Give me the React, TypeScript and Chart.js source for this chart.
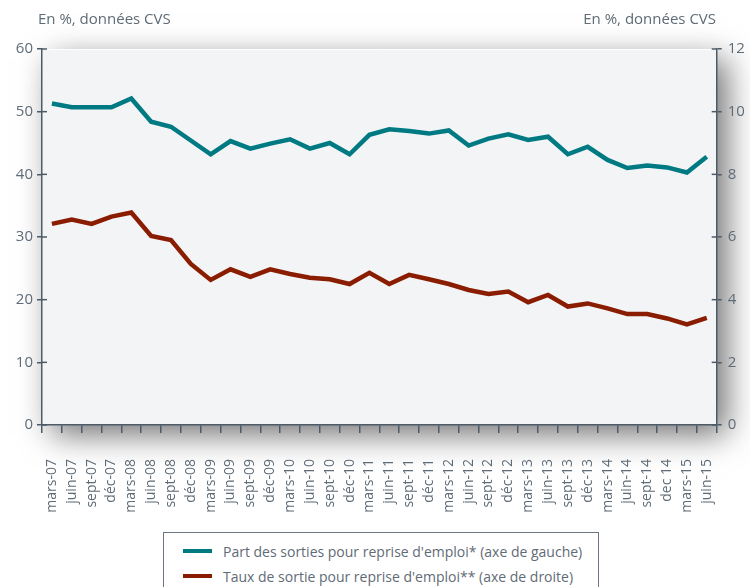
import React, { useEffect, useRef } from "react";
import { Chart, registerables } from "chart.js";

Chart.register(...registerables);

const categories = [
  "mars-07", "juin-07", "sept-07", "déc-07",
  "mars-08", "juin-08", "sept-08", "déc-08",
  "mars-09", "juin-09", "sept-09", "déc-09",
  "mars-10", "juin-10", "sept-10", "déc-10",
  "mars-11", "juin-11", "sept-11", "déc-11",
  "mars-12", "juin-12", "sept-12", "déc-12",
  "mars-13", "juin-13", "sept-13", "déc-13",
  "mars-14", "juin-14", "sept-14", "dec 14",
  "mars-15", "juin-15",
];

const partSorties = [
  51.3, 50.7, 50.7, 50.7, 52.1, 48.4, 47.6, 45.4,
  43.2, 45.3, 44.1, 44.9, 45.6, 44.1, 45.0, 43.2,
  46.3, 47.2, 46.9, 46.5, 47.0, 44.6, 45.7, 46.4,
  45.5, 46.0, 43.2, 44.4, 42.3, 41.0, 41.4, 41.1,
  40.3, 42.8,
];

const tauxSortie = [
  6.42, 6.56, 6.42, 6.65, 6.78, 6.03, 5.90, 5.14,
  4.63, 4.97, 4.73, 4.97, 4.82, 4.70, 4.65, 4.50,
  4.86, 4.50, 4.79, 4.65, 4.50, 4.31, 4.18, 4.26,
  3.92, 4.15, 3.78, 3.88, 3.72, 3.54, 3.54, 3.40,
  3.21, 3.42,
];

const leftTicks = [0, 10, 20, 30, 40, 50, 60];
const rightTicks = [0, 2, 4, 6, 8, 10, 12];

const seriesNames = [
  "Part des sorties pour reprise d'emploi* (axe de gauche)",
  "Taux de sortie pour reprise d'emploi** (axe de droite)",
];

const TEAL = "#007a82";
const RED = "#8a1c00";
const AXIS = "#4d5b68";
const TEXT = "#5f6b76";
const FONT = "'Open Sans', 'Noto Sans', sans-serif";

const plotBg = {
  id: "plotBg",
  beforeDraw(chart: any) {
    const { ctx, chartArea } = chart;
    const { left, top, right, bottom } = chartArea;
    ctx.save();
    ctx.shadowColor = "rgba(0,0,0,0.55)";
    ctx.shadowBlur = 30;
    ctx.shadowOffsetX = 10;
    ctx.shadowOffsetY = 10;
    ctx.fillStyle = "#f2f4f6";
    ctx.fillRect(left, top, right - left, bottom - top);
    ctx.restore();
    ctx.save();
    ctx.fillStyle = "#f2f4f6";
    ctx.fillRect(left, top, right - left, bottom - top);
    ctx.strokeStyle = "#ffffff";
    ctx.lineWidth = 1;
    ctx.beginPath();
    ctx.moveTo(left, top + 0.5);
    ctx.lineTo(right, top + 0.5);
    ctx.stroke();
    ctx.restore();
  },
  afterDraw(chart: any) {
    const { ctx } = chart;
    ctx.save();
    ctx.strokeStyle = AXIS;
    ctx.lineWidth = 1.5;
    const yl = chart.scales.y;
    const yr = chart.scales.y2;
    yl.ticks.forEach((t: any, i: number) => {
      const p = yl.getPixelForTick(i);
      ctx.beginPath();
      ctx.moveTo(yl.right, p);
      ctx.lineTo(yl.right + 5, p);
      ctx.stroke();
    });
    yr.ticks.forEach((t: any, i: number) => {
      const p = yr.getPixelForTick(i);
      ctx.beginPath();
      ctx.moveTo(yr.left, p);
      ctx.lineTo(yr.left - 5, p);
      ctx.stroke();
    });
    ctx.restore();
  },
};

export default function App() {
  const ref = useRef<HTMLCanvasElement | null>(null);

  useEffect(() => {
    if (!ref.current) return;
    const chart = new Chart(ref.current, {
      type: "line",
      data: {
        labels: categories,
        datasets: [
          {
            label: seriesNames[0],
            data: partSorties,
            borderColor: TEAL,
            backgroundColor: TEAL,
            borderWidth: 4.5,
            pointRadius: 0,
            tension: 0,
            yAxisID: "y",
          },
          {
            label: seriesNames[1],
            data: tauxSortie,
            borderColor: RED,
            backgroundColor: RED,
            borderWidth: 4.5,
            pointRadius: 0,
            tension: 0,
            yAxisID: "y2",
          },
        ],
      },
      options: {
        responsive: false,
        animation: false,
        layout: { padding: { top: 49, left: 0, right: 0, bottom: 0 } },
        plugins: {
          legend: { display: false },
          title: { display: false },
          tooltip: { enabled: false },
        },
        scales: {
          x: {
            offset: true,
            grid: {
              offset: true,
              drawOnChartArea: false,
              drawTicks: true,
              tickLength: 8,
              color: AXIS,
              lineWidth: 1.5,
            },
            border: { display: true, color: AXIS, width: 1.5 },
            ticks: {
              autoSkip: false,
              maxRotation: 90,
              minRotation: 90,
              padding: 26,
              color: TEXT,
              font: { family: FONT, size: 14 },
            },
            afterFit(scale: any) {
              scale.height = 162;
            },
          },
          y: {
            position: "left",
            min: 0,
            max: 60,
            afterBuildTicks(scale: any) {
              scale.ticks = leftTicks.map((v) => ({ value: v }));
            },
            grid: {
              drawOnChartArea: false,
              drawTicks: true,
              tickLength: 5,
              color: AXIS,
              lineWidth: 1.5,
            },
            border: { display: true, color: AXIS, width: 1.5 },
            ticks: {
              padding: 4,
              color: TEXT,
              font: { family: FONT, size: 15 },
            },
            afterFit(scale: any) {
              scale.width = 42;
            },
          },
          y2: {
            position: "right",
            min: 0,
            max: 12,
            afterBuildTicks(scale: any) {
              scale.ticks = rightTicks.map((v) => ({ value: v }));
            },
            grid: {
              drawOnChartArea: false,
              drawTicks: true,
              tickLength: 5,
              color: AXIS,
              lineWidth: 1.5,
            },
            border: { display: true, color: AXIS, width: 1.5 },
            ticks: {
              padding: 6,
              color: TEXT,
              font: { family: FONT, size: 15 },
            },
            afterFit(scale: any) {
              scale.width = 30;
            },
          },
        },
      },
      plugins: [plotBg],
    });
    return () => chart.destroy();
  }, []);

  const unitStyle: React.CSSProperties = {
    position: "absolute",
    top: 8,
    fontFamily: FONT,
    fontSize: 15,
    color: TEXT,
    whiteSpace: "nowrap",
  };

  return (
    <div
      style={{
        position: "fixed",
        left: 0,
        top: 0,
        width: 750,
        height: 587,
        background: "#ffffff",
        overflow: "hidden",
      }}
    >
      <canvas ref={ref} width={750} height={587} style={{ position: "absolute", left: 0, top: 0 }} />
      <div style={{ ...unitStyle, left: 38 }}>En %, données CVS</div>
      <div style={{ ...unitStyle, right: 34 }}>En %, données CVS</div>
      <div
        style={{
          position: "absolute",
          left: 163,
          top: 532,
          width: 434,
          height: 70,
          border: "1px solid #6b7680",
          background: "#ffffff",
          fontFamily: FONT,
          fontSize: 14,
          color: TEXT,
        }}
      >
        {seriesNames.map((name, i) => (
          <div
            key={name}
            style={{ position: "absolute", left: 19, top: 9 + i * 25, height: 18, display: "flex", alignItems: "center", whiteSpace: "nowrap" }}
          >
            <span
              style={{
                display: "inline-block",
                width: 29,
                height: 4,
                background: i === 0 ? TEAL : RED,
                marginRight: 11,
              }}
            />
            {name}
          </div>
        ))}
      </div>
    </div>
  );
}
